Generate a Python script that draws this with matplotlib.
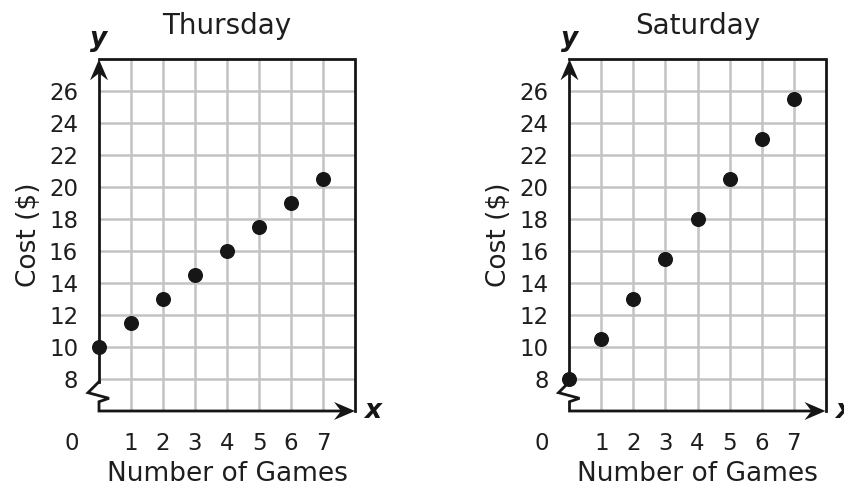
import matplotlib
matplotlib.use("Agg")
import matplotlib.pyplot as plt
from matplotlib.patches import Polygon

# Data
games = [0, 1, 2, 3, 4, 5, 6, 7]
thursday_cost = [10, 11.5, 13, 14.5, 16, 17.5, 19, 20.5]
saturday_cost = [8, 10.5, 13, 15.5, 18, 20.5, 23, 25.5]
y_ticks = [8, 10, 12, 14, 16, 18, 20, 22, 24, 26]
x_ticks = [1, 2, 3, 4, 5, 6, 7]
titles = ["Thursday", "Saturday"]

plt.rcParams["font.family"] = ["DejaVu Sans"]

W, H = 845, 487
fig = plt.figure(figsize=(W / 100, H / 100), dpi=100)

XMIN, XMAX, YMIN, YMAX = 0, 8, 6, 28
ax_w_px, ax_h_px = 256, 351.7
px_x = ax_w_px / (XMAX - XMIN)   # pixels per x unit
px_y = ax_h_px / (YMAX - YMIN)   # pixels per y unit

grid_col = "#c3c3c3"
ink = "#161616"
text_col = "#1e1e1e"
lefts = [99, 569.5]

for left, title, cost in zip(lefts, titles, [thursday_cost, saturday_cost]):
    ax = fig.add_axes([left / W, (H - 411) / H, ax_w_px / W, ax_h_px / H])
    ax.set_xlim(XMIN, XMAX)
    ax.set_ylim(YMIN, YMAX)
    for s in ax.spines.values():
        s.set_visible(False)
    ax.patch.set_visible(False)

    # grid
    for yv in y_ticks:
        ax.plot([XMIN, XMAX], [yv, yv], color=grid_col, lw=1.8, zorder=1,
                solid_capstyle="butt")
    for xv in x_ticks:
        ax.plot([xv, xv], [YMIN, YMAX], color=grid_col, lw=1.8, zorder=1,
                solid_capstyle="butt")

    # frame: top and right borders
    ax.plot([XMIN, XMAX, XMAX], [YMAX, YMAX, YMIN], color=ink, lw=2.0,
            zorder=3, clip_on=False, solid_joinstyle="miter")

    # y axis with break and x axis
    brk_top = YMIN + 29.3 / px_y
    ax.plot([0, 0], [YMAX - 10 / px_y, brk_top], color=ink, lw=2.0, zorder=3,
            clip_on=False)
    zz_x = [0, -11 / px_x, 10 / px_x, 0, 0, XMAX - 12 / px_x]
    zz_y = [brk_top, YMIN + 18.3 / px_y, YMIN + 12.7 / px_y, YMIN + 9.3 / px_y,
            YMIN, YMIN]
    ax.plot(zz_x, zz_y, color=ink, lw=2.0, zorder=3, clip_on=False,
            solid_joinstyle="miter")

    # arrowheads
    hl, hw, nd = 21, 9.0, 14
    up = Polygon([(0, YMAX), (-hw / px_x, YMAX - hl / px_y),
                  (0, YMAX - nd / px_y), (hw / px_x, YMAX - hl / px_y)],
                 closed=True, color=ink, zorder=4, clip_on=False, lw=0)
    right = Polygon([(XMAX, YMIN), (XMAX - hl / px_x, YMIN + hw / px_y),
                     (XMAX - nd / px_x, YMIN), (XMAX - hl / px_x, YMIN - hw / px_y)],
                    closed=True, color=ink, zorder=4, clip_on=False, lw=0)
    ax.add_patch(up)
    ax.add_patch(right)

    # points
    ax.plot(games, cost, "o", color=ink, ms=9.8, zorder=5, clip_on=False)

    # ticks
    ax.set_yticks(y_ticks)
    ax.set_yticklabels([str(v) for v in y_ticks])
    ax.set_xticks(x_ticks)
    ax.set_xticklabels([str(v) for v in x_ticks])
    ax.tick_params(axis="y", length=0, pad=15, labelsize=16.5, colors=text_col)
    ax.tick_params(axis="x", length=0, pad=15, labelsize=16.5, colors=text_col)
    ax.annotate("0", xy=(0, YMIN), xytext=(-27.5, -32), textcoords="offset pixels",
                ha="center", va="center", fontsize=16.5, color=text_col)

    # axis letters
    ax.annotate("y", xy=(0, YMAX), xytext=(0, 20), textcoords="offset pixels",
                ha="center", va="center", fontsize=19, fontweight="bold",
                fontstyle="italic", color=ink)
    ax.annotate("x", xy=(XMAX, YMIN), xytext=(18, 0), textcoords="offset pixels",
                ha="center", va="center", fontsize=19, fontweight="bold",
                fontstyle="italic", color=ink)

    # labels
    ax.set_title(title, fontsize=20, pad=18, color=text_col)
    ax.set_xlabel("Number of Games", fontsize=19, labelpad=4.5, color=text_col)
    ax.set_ylabel("Cost ($)", fontsize=19, labelpad=5, color=text_col)

fig.savefig("out.png", dpi=100)
